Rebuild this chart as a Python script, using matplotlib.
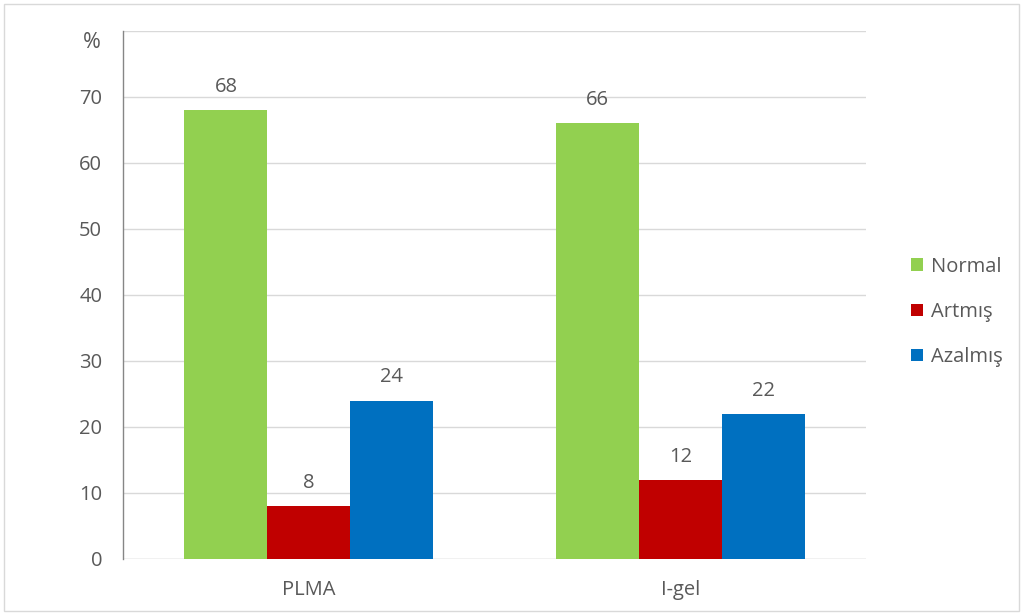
import matplotlib
matplotlib.use("Agg")
import matplotlib.pyplot as plt
import numpy as np
from matplotlib.patches import Rectangle

categories = ["PLMA", "I-gel"]
series_names = ["Normal", "Artmış", "Azalmış"]
normal = [68, 66]
artmis = [8, 12]
azalmis = [24, 22]
colors = ["#92D050", "#C00000", "#0070C0"]
yticks = [0, 10, 20, 30, 40, 50, 60, 70]

plt.rcParams['font.family'] = ['Open Sans', 'DejaVu Sans']
txt = "#595959"
fs = 14.5

fig = plt.figure(figsize=(10.23, 6.15), dpi=100)
ax = fig.add_axes([123/1023, 1 - 559/615, (866-123)/1023, (559-31)/615])

x = np.arange(len(categories))
w = 0.223
for i, (vals, c, name) in enumerate(zip([normal, artmis, azalmis], colors, series_names)):
    pos = x + (i - 1) * w
    ax.bar(pos, vals, width=w, color=c, label=name, zorder=3)
    for p, v in zip(pos, vals):
        ax.text(p, v + 2.0, str(v), ha="center", va="bottom", fontsize=fs, color=txt)

ax.set_xlim(-0.5, 1.5)
ax.set_ylim(0, 80)
ax.set_yticks(yticks + [80])
ax.set_yticklabels([str(t) for t in yticks] + [""])
ax.grid(axis="y", color="#D9D9D9", linewidth=1, zorder=0)
ax.set_xticks(x)
ax.set_xticklabels(categories)
ax.tick_params(axis="both", length=0, labelsize=fs, colors=txt)
ax.tick_params(axis="y", pad=15)
ax.tick_params(axis="x", pad=15)
for s in ["top", "right", "bottom"]:
    ax.spines[s].set_visible(False)
ax.spines["left"].set_color("#868686")
ax.spines["left"].set_linewidth(1)
ax.axhline(0, color="#D9D9D9", linewidth=1, zorder=1)

fig.text(92/1023, 1 - 42/615, "%", ha="center", va="center", fontsize=fs + 1, color=txt)

fig.legend(loc="center left", bbox_to_anchor=(893/1023, 1 - 312/615), frameon=False,
           fontsize=fs, labelcolor=txt, handlelength=0.6, handleheight=0.6,
           handletextpad=0.4, labelspacing=1.25)

fig.add_artist(Rectangle((4/1023, 4/615), 1015/1023, 607/615, transform=fig.transFigure,
                         fill=False, edgecolor="#D9D9D9", linewidth=1))

fig.savefig("out.png", dpi=100)
